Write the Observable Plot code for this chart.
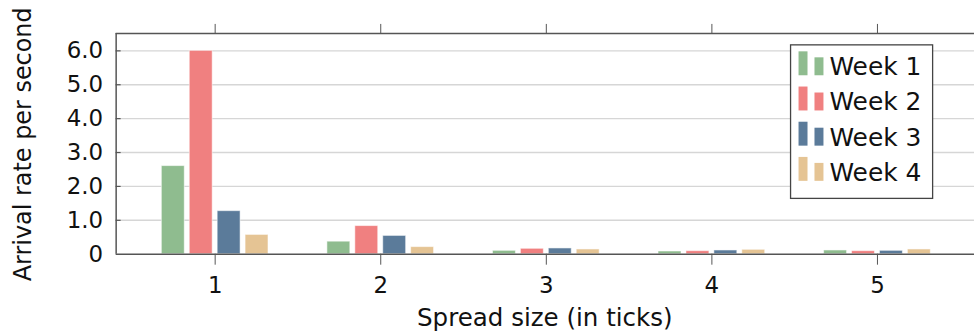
<!DOCTYPE html>
<html>
<head>
<meta charset="utf-8">
<script src="https://cdn.jsdelivr.net/npm/d3@7"></script>
<script src="https://cdn.jsdelivr.net/npm/@observablehq/plot@0.6"></script>
<style>
  html, body { margin: 0; padding: 0; background: #fff; overflow: hidden; }
  #chart { width: 974px; height: 334px; overflow: hidden; }
  svg { display: block; }
</style>
</head>
<body>
<div id="chart"></div>
<script>
const spreads = [1, 2, 3, 4, 5];
const weeks = ["Week 1", "Week 2", "Week 3", "Week 4"];
const week1 = [2.6, 0.37, 0.10, 0.08, 0.11];
const week2 = [6.0, 0.83, 0.16, 0.09, 0.09];
const week3 = [1.27, 0.54, 0.17, 0.11, 0.10];
const week4 = [0.57, 0.21, 0.14, 0.13, 0.14];
const colors = ["#8fbc8f", "#f08080", "#5b7b9a", "#e5c494"];
const yTicks = [0, 1, 2, 3, 4, 5, 6];
const xLabel = "Spread size (in ticks)";
const yLabel = "Arrival rate per second";

const series = [week1, week2, week3, week4];
const rows = [];
series.forEach((vals, i) => vals.forEach((v, j) => rows.push({spread: spreads[j], week: weeks[i], i, value: v})));

const FONT = "'DejaVu Sans', sans-serif";
const W = 977, H = 334;
const mL = 116, mT = 33, mB = 79.5, mR = 0;
const xDom = [0.402, 5.586];
const pxPerUnit = (W - mL - mR) / (xDom[1] - xDom[0]);
const step = 28 / pxPerUnit, bw = 23 / pxPerUnit;

const plot = Plot.plot({
  width: W, height: H,
  marginLeft: mL, marginRight: mR, marginTop: mT, marginBottom: mB,
  style: {fontFamily: FONT, fontSize: "23px", color: "#111", background: "#fff"},
  x: {type: "linear", domain: xDom},
  y: {domain: [0, 6.515]},
  color: {domain: weeks, range: colors},
  marks: [
    Plot.ruleY(yTicks.filter(d => d > 0), {stroke: "#d6d6d6", strokeWidth: 1.4}),
    Plot.ruleY(yTicks.filter(d => d > 0), {x1: xDom[0], x2: xDom[0] + 5 / pxPerUnit, stroke: "#555", strokeWidth: 1.2}),
    Plot.rectY(rows, {
      x1: d => d.spread + (d.i - 1.5) * step - bw / 2,
      x2: d => d.spread + (d.i - 1.5) * step + bw / 2,
      y: "value",
      fill: "week",
      stroke: "#fff", strokeOpacity: 0.55, strokeWidth: 1
    }),
    Plot.axisY({ticks: yTicks, tickSize: 0, tickPadding: 13, label: null,
      tickFormat: d => d === 0 ? "0" : d.toFixed(1), fill: "#111", fontSize: 23}),
    Plot.axisX({ticks: spreads, tickSize: 11, tickPadding: 12, label: null,
      tickFormat: d => String(d), stroke: "#555", fill: "#111", fontSize: 23}),
    Plot.axisX({anchor: "top", ticks: spreads, tickSize: 10, label: null,
      tickFormat: () => "", stroke: "#555"}),
    Plot.ruleY([0], {stroke: "#555", strokeWidth: 1.5}),
    Plot.ruleY([6.515], {stroke: "#555", strokeWidth: 1.5}),
    Plot.ruleX([xDom[0]], {stroke: "#555", strokeWidth: 1.5})
  ]
});

document.getElementById("chart").appendChild(plot);

const svg = d3.select(plot);
svg.append("text")
  .attr("transform", `translate(31, ${(mT + (H - mB)) / 2 + 1}) rotate(-90)`)
  .attr("text-anchor", "middle")
  .attr("font-family", FONT).attr("font-size", 24).attr("fill", "#111")
  .text(yLabel);
svg.append("text")
  .attr("x", (mL + W - mR) / 2).attr("y", 326.7)
  .attr("text-anchor", "middle")
  .attr("font-family", FONT).attr("font-size", 24.6).attr("fill", "#111")
  .text(xLabel);

const lg = svg.append("g");
lg.append("rect").attr("x", 793).attr("y", 45).attr("width", 142.5).attr("height", 154)
  .attr("fill", "#fff").attr("stroke", "#444").attr("stroke-width", 1.3);
weeks.forEach((w, i) => {
  const base = 75.5 + i * 35.3;
  lg.append("rect").attr("x", 801).attr("y", base - 24).attr("width", 9).attr("height", 24).attr("fill", colors[i]);
  lg.append("rect").attr("x", 817).attr("y", base - 18).attr("width", 9).attr("height", 18).attr("fill", colors[i]);
  lg.append("text").attr("x", 832).attr("y", base)
    .attr("text-anchor", "start")
    .attr("font-family", FONT).attr("font-size", 25).attr("fill", "#111")
    .text(w);
});
</script>
</body>
</html>
